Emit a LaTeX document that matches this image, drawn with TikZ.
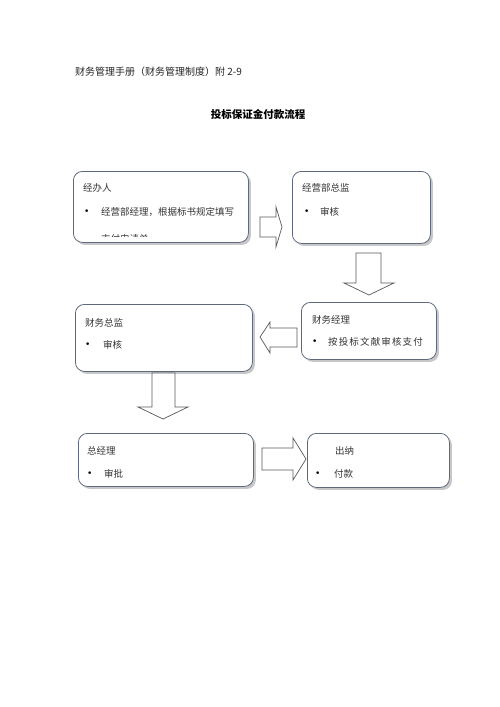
\documentclass[tikz,border=0pt]{standalone}
\usepackage{fontspec}
\setmainfont{Noto Sans CJK SC}
\newfontfamily\dvfont{DejaVu Sans}
\usetikzlibrary{shadows}
\definecolor{boxedge}{RGB}{95,105,125}
\tikzset{
  box/.style={draw=boxedge, line width=0.8pt, rounded corners=9pt, fill=white,
    anchor=north west, inner sep=0pt,
    drop shadow={shadow xshift=2.5pt, shadow yshift=-2.5pt, fill=black!40, opacity=0.55}},
  txt/.style={anchor=west, inner sep=0pt, font=\fontsize{9.5}{11}\selectfont, text=black!80},
  bul/.style={anchor=west, inner sep=0pt, font=\dvfont\fontsize{9}{10}\selectfont, text=black},
  blk/.style={draw=black!65, line width=0.7pt, fill=white, line join=miter},
}
\begin{document}
\begin{tikzpicture}[x=1pt,y=-1pt]
\useasboundingbox (0,0) rectangle (500,707);
\fill[white] (0,0) rectangle (500,707);

% header and title
\node[anchor=west, inner sep=0pt, font=\fontsize{10}{12}\selectfont, text=black!85] (hdr) at (75,72) {财务管理手册（财务管理制度）附 2-9};
\node[inner sep=0pt, font=\fontsize{10.5}{12}\selectfont\bfseries, text=black] (ttl) at (258,114) {投标保证金付款流程};

% boxes
\node[box, minimum width=175pt, minimum height=71pt] (b1) at (73,171) {};
\node[box, minimum width=138pt, minimum height=72pt] (b2) at (292,171) {};
\node[box, minimum width=135pt, minimum height=57pt] (b3) at (301,302) {};
\node[box, minimum width=177pt, minimum height=67pt] (b4) at (75,304) {};
\node[box, minimum width=175pt, minimum height=53pt] (b5) at (78,433) {};
\node[box, minimum width=142pt, minimum height=54pt] (b6) at (307,433) {};

% box 1 texts
\node[txt] (t1a) at (83,188) {经办人};
\node[bul] (t1p) at (84,212) {•};
\node[txt] (t1b) at (101,212) {经营部经理，根据标书规定填写};
\begin{scope}
  \clip (80,225) rectangle (246,236.5);
  \node[txt] (t1c) at (101,239) {支付申请单};
\end{scope}

% box 2
\node[txt] (t2a) at (302,188) {经营部总监};
\node[bul] (t2p) at (304,212) {•};
\node[txt] (t2b) at (320,212) {审核};

% box 3
\node[txt] (t3a) at (312,320) {财务经理};
\node[bul] (t3p) at (312,342) {•};
\node[txt, font=\fontsize{9.5}{11}\selectfont\addfontfeatures{LetterSpace=12}] (t3b) at (328,342) {按投标文献审核支付};

% box 4
\node[txt] (t4a) at (85,323) {财务总监};
\node[bul] (t4p) at (85,345) {•};
\node[txt] (t4b) at (103,345) {审核};

% box 5
\node[txt] (t5a) at (87,451) {总经理};
\node[bul] (t5p) at (87,474) {•};
\node[txt] (t5b) at (104,474) {审批};

% box 6
\node[txt] (t6a) at (335,451) {出纳};
\node[bul] (t6p) at (315,474) {•};
\node[txt] (t6b) at (334,474) {付款};

% block arrows
\draw[blk] (260,217) -- (276,217) -- (276,207) -- (282,227) -- (276,247) -- (276,237) -- (260,237) -- cycle;
\draw[blk] (356,253) -- (381,253) -- (381,283) -- (394,283) -- (369,295) -- (344,283) -- (356,283) -- cycle;
\draw[blk] (260,337) -- (270,322) -- (270,328) -- (297,328) -- (297,347) -- (270,347) -- (270,353) -- cycle;
\draw[blk] (152,373) -- (175,373) -- (175,407) -- (188,407) -- (163,419) -- (138,407) -- (152,407) -- cycle;
\draw[blk] (262,448) -- (293,448) -- (293,438) -- (306,459) -- (293,480) -- (293,470) -- (262,470) -- cycle;
\end{tikzpicture}
\end{document}
